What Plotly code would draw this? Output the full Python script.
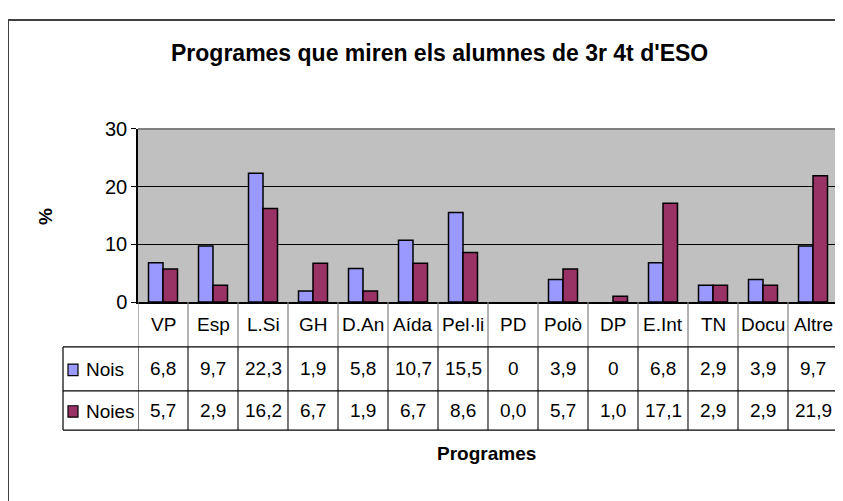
import plotly.graph_objects as go

W, H = 843, 501
OFF = 8  # marge del body de la pàgina

# dades
programes = ["VP", "Esp", "L.Si", "GH", "D.An", "Aída", "Pel·li", "PD",
             "Polò", "DP", "E.Int", "TN", "Docu", "Altre"]
nois = [6.8, 9.7, 22.3, 1.9, 5.8, 10.7, 15.5, 0, 3.9, 0, 6.8, 2.9, 3.9, 9.7]
noies = [5.7, 2.9, 16.2, 6.7, 1.9, 6.7, 8.6, 0.0, 5.7, 1.0, 17.1, 2.9, 2.9, 21.9]
y_ticks = [0, 10, 20, 30]

c_nois = "#9999FF"
c_noies = "#993366"
FONT = "Liberation Sans Narrow, Liberation Sans, Arial"


def px(x):
    return (x - OFF) / W


def py(y):
    return 1 - (y - OFF) / H


def fmt(v, zero_int=False):
    if zero_int and v == 0:
        return "0"
    return f"{v:.1f}".replace(".", ",")


fig = go.Figure()
for name, vals, col in (("Nois", nois, c_nois), ("Noies", noies, c_noies)):
    fig.add_trace(go.Bar(
        x=list(range(len(programes))), y=vals, name=name,
        marker=dict(color=col, line=dict(color="black",
                                         width=[0 if v == 0 else 1.5 for v in vals])),
    ))

# posicions (pixels)
plot_l, plot_r, plot_t, plot_b = 138, 838, 123, 304
row_cat_b, row1_b, row2_b = 351, 397, 438
tab_l = 63

shapes = []
annots = []

# vora exterior
shapes.append(dict(type="rect", xref="paper", yref="paper",
                   x0=px(8), x1=px(870), y0=py(530), y1=py(9),
                   line=dict(color="#404040", width=2)))
# vora gris de l'àrea de traçat
shapes.append(dict(type="line", xref="paper", yref="paper",
                   x0=px(plot_l), x1=px(plot_r), y0=py(plot_t), y1=py(plot_t),
                   line=dict(color="#808080", width=2)))
shapes.append(dict(type="line", xref="paper", yref="paper",
                   x0=px(plot_r), x1=px(plot_r), y0=py(plot_t), y1=py(plot_b),
                   line=dict(color="#808080", width=2)))

# taula de dades
for k in range(len(programes) + 1):
    xb = k - 0.5
    shapes.append(dict(type="line", xref="x", yref="paper",
                       x0=xb, x1=xb, y0=py(plot_b), y1=py(row_cat_b),
                       line=dict(color="#808080", width=1.2)))
    shapes.append(dict(type="line", xref="x", yref="paper",
                       x0=xb, x1=xb, y0=py(row_cat_b), y1=py(row2_b),
                       line=dict(color="#202020", width=1.2)))
for yy in (row_cat_b, row1_b, row2_b):
    shapes.append(dict(type="line", xref="paper", yref="paper",
                       x0=px(tab_l), x1=px(plot_r), y0=py(yy), y1=py(yy),
                       line=dict(color="black", width=1.2)))
shapes.append(dict(type="line", xref="paper", yref="paper",
                   x0=px(tab_l), x1=px(tab_l), y0=py(row_cat_b), y1=py(row2_b),
                   line=dict(color="black", width=1.2)))

cell_font = dict(family=FONT, size=19, color="black")
for k, name in enumerate(programes):
    for txt, yc in ((name, (plot_b + row_cat_b) / 2),
                    (fmt(nois[k], zero_int=True), (row_cat_b + row1_b) / 2),
                    (fmt(noies[k]), (row1_b + row2_b) / 2)):
        annots.append(dict(x=k, y=py(yc), xref="x", yref="paper", text=txt,
                           showarrow=False, xanchor="center", yanchor="middle",
                           font=cell_font))

# claus de llegenda dins la taula
for (name, col, y0, y1) in (("Nois", c_nois, row_cat_b, row1_b),
                            ("Noies", c_noies, row1_b, row2_b)):
    yc = (y0 + y1) / 2 + 1
    shapes.append(dict(type="rect", xref="paper", yref="paper",
                       x0=px(68), x1=px(78), y0=py(yc + 6), y1=py(yc - 6),
                       fillcolor=col, line=dict(color="black", width=1.2)))
    annots.append(dict(x=px(84), y=py(yc), xref="paper", yref="paper",
                       text=name, showarrow=False, xanchor="left", yanchor="middle",
                       font=cell_font))

# títols
annots.append(dict(x=px(439), y=py(44), xref="paper", yref="paper",
                   text="<b>Programes que miren els alumnes de 3r 4t d'ESO</b>",
                   showarrow=False, xanchor="center", yanchor="middle",
                   font=dict(family=FONT, size=23, color="black")))
annots.append(dict(x=px(487), y=py(462), xref="paper", yref="paper",
                   text="<b>Programes</b>", showarrow=False,
                   xanchor="center", yanchor="middle",
                   font=dict(family=FONT, size=19, color="black")))
annots.append(dict(x=px(46), y=py(215), xref="paper", yref="paper",
                   text="<b>%</b>", showarrow=False, textangle=-90,
                   xanchor="center", yanchor="middle",
                   font=dict(family=FONT, size=19, color="black")))

fig.update_layout(
    width=W, height=H, autosize=False,
    margin=dict(l=0, r=0, t=0, b=0),
    paper_bgcolor="white", plot_bgcolor="#C0C0C0",
    showlegend=False, barmode="group", bargap=0.42, bargroupgap=0,
    font=dict(family=FONT, size=19, color="black"),
    shapes=shapes, annotations=annots,
    xaxis=dict(domain=[px(plot_l), px(plot_r)], range=[-0.5, len(programes) - 0.5],
               showticklabels=False, ticks="", showgrid=False, zeroline=False,
               showline=True, linecolor="black", linewidth=1.5, fixedrange=True),
    yaxis=dict(domain=[py(plot_b), py(plot_t)], range=[0, 30], tickvals=y_ticks,
               ticks="outside", ticklen=5, tickcolor="black", tickwidth=1.2,
               showgrid=True, gridcolor="black", gridwidth=1.2, zeroline=False,
               showline=True, linecolor="black", linewidth=1.5,
               tickfont=dict(family=FONT, size=20), fixedrange=True),
)

fig.write_html("out.html")
